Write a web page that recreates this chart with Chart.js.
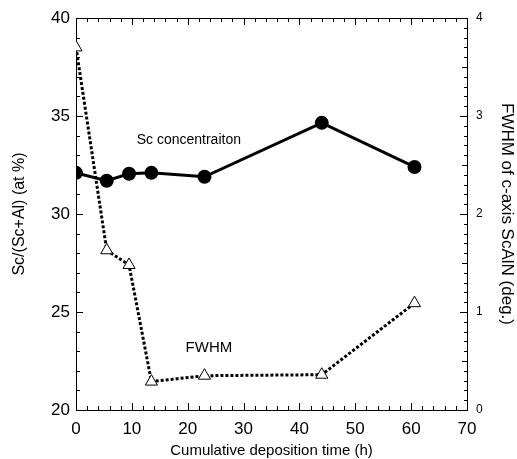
<!DOCTYPE html>
<html>
<head>
<meta charset="utf-8">
<script src="https://cdn.jsdelivr.net/npm/chart.js@4.4.1/dist/chart.umd.min.js"></script>
<style>
  html, body { margin: 0; padding: 0; background: #fff; }
  #wrap { width: 517px; height: 459px; }
</style>
</head>
<body>
<div id="wrap"><canvas id="chart" width="517" height="459"></canvas></div>
<script>
// --- данные ---
const times = [0, 5.5, 9.5, 13.5, 23, 44, 60.6];
const scConc = [32.1, 31.7, 32.05, 32.1, 31.9, 34.65, 32.4];
const fwhm = [3.7, 1.63, 1.48, 0.29, 0.35, 0.36, 1.09];
const xTicks = [0, 10, 20, 30, 40, 50, 60, 70];
const leftTicks = [20, 25, 30, 35, 40];
const rightTicks = [0, 1, 2, 3, 4];

const FONT = "'Liberation Sans', Arial, sans-serif";

// --- метки внутрь + подписи ---
const insideTicks = {
  id: "insideTicks",
  afterDraw(chart) {
    const { ctx, chartArea: a, scales } = chart;
    const x = scales.x, yl = scales.y, yr = scales.y2;
    ctx.save();
    ctx.strokeStyle = "#000";
    ctx.lineWidth = 1;
    ctx.beginPath();
    for (let v = 0; v <= 70; v += 2) {
      const px = Math.round(x.getPixelForValue(v)) + 0.5;
      const len = v % 10 === 0 ? 7 : 4;
      ctx.moveTo(px, a.bottom); ctx.lineTo(px, a.bottom - len);
      ctx.moveTo(px, a.top); ctx.lineTo(px, a.top + len);
    }
    for (let v = 20; v <= 40; v += 1) {
      const py = Math.round(yl.getPixelForValue(v)) + 0.5;
      const len = v % 5 === 0 ? 7 : 4;
      ctx.moveTo(a.left, py); ctx.lineTo(a.left + len, py);
    }
    for (let i = 0; i <= 40; i++) {
      const py = Math.round(yr.getPixelForValue(i / 10)) + 0.5;
      const len = i % 10 === 0 ? 7 : (i % 5 === 0 ? 5 : 3);
      ctx.moveTo(a.right, py); ctx.lineTo(a.right - len, py);
    }
    ctx.stroke();

    // подписи на графике
    ctx.fillStyle = "#000";
    ctx.font = "14px " + FONT;
    ctx.textAlign = "center";
    ctx.textBaseline = "middle";
    ctx.fillText("Sc concentraiton", x.getPixelForValue(20.2), yl.getPixelForValue(33.78));
    ctx.font = "15px " + FONT;
    ctx.fillText("FWHM", x.getPixelForValue(23.8), yl.getPixelForValue(23.16));
    ctx.restore();
  },
};

new Chart(document.getElementById("chart"), {
  type: "line",
  data: {
    datasets: [
      {
        label: "FWHM",
        data: times.map((t, i) => ({ x: t, y: fwhm[i] })),
        yAxisID: "y2",
        borderColor: "#000",
        borderWidth: 3,
        borderDash: [3, 2],
        pointStyle: "triangle",
        pointRadius: 7,
        pointBorderWidth: 1,
        pointBackgroundColor: "#fff",
        pointBorderColor: "#000",
        tension: 0,
      },
      {
        label: "Sc",
        data: times.map((t, i) => ({ x: t, y: scConc[i] })),
        yAxisID: "y",
        borderColor: "#000",
        borderWidth: 3,
        pointStyle: "circle",
        pointRadius: 5.5,
        pointBackgroundColor: "#000",
        pointBorderColor: "#000",
        tension: 0,
      },
    ],
  },
  options: {
    responsive: false,
    animation: false,
    events: [],
    layout: { padding: { top: 18, left: 0, right: 0, bottom: 0 } },
    plugins: { legend: { display: false }, tooltip: { enabled: false } },
    scales: {
      x: {
        type: "linear",
        min: 0, max: 70,
        afterBuildTicks: (s) => { s.ticks = xTicks.map((v) => ({ value: v })); },
        afterFit: (s) => { s.height = 49; },
        grid: { display: false, drawTicks: false },
        border: { display: true, color: "#000", width: 1 },
        ticks: { color: "#000", font: { family: FONT, size: 17 }, padding: 9, maxRotation: 0 },
        title: { display: true, text: "Cumulative deposition time (h)", color: "#000",
                 font: { family: FONT, size: 15 }, padding: { top: 0, bottom: -1 } },
      },
      x2: {
        type: "linear", position: "top", min: 0, max: 70,
        afterFit: (s) => { s.height = 0; },
        grid: { display: false, drawTicks: false },
        border: { display: true, color: "#000", width: 1 },
        ticks: { display: false },
      },
      y: {
        type: "linear", position: "left",
        min: 20, max: 40,
        afterBuildTicks: (s) => { s.ticks = leftTicks.map((v) => ({ value: v })); },
        afterFit: (s) => { s.width = 76; },
        grid: { display: false, drawTicks: false },
        border: { display: true, color: "#000", width: 1 },
        ticks: { color: "#000", font: { family: FONT, size: 17 }, padding: 6 },
        title: { display: true, text: "Sc/(Sc+Al) (at %)", color: "#000",
                 font: { family: FONT, size: 16 }, padding: { top: 10 } },
      },
      y2: {
        type: "linear", position: "right",
        min: 0, max: 4,
        afterBuildTicks: (s) => { s.ticks = rightTicks.map((v) => ({ value: v })); },
        afterFit: (s) => { s.width = 50; },
        grid: { display: false, drawTicks: false },
        border: { display: true, color: "#000", width: 1 },
        ticks: { color: "#000", font: { family: FONT, size: 12 }, padding: 9 },
        title: { display: true, text: "FWHM of c-axis ScAlN (deg.)", color: "#000",
                 font: { family: FONT, size: 17 }, padding: { top: 0 } },
      },
    },
  },
  plugins: [insideTicks],
});
</script>
</body>
</html>
